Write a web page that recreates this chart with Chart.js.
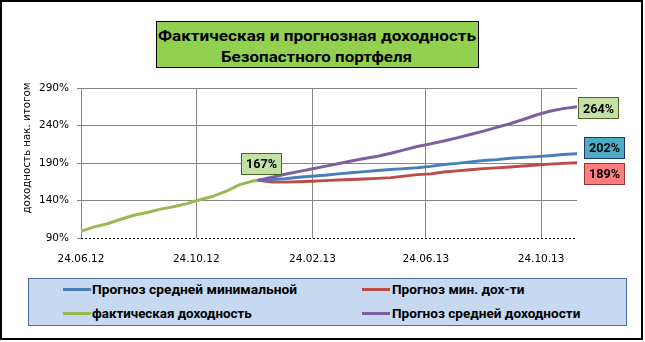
<!DOCTYPE html>
<html>
<head>
<meta charset="utf-8">
<script src="https://cdn.jsdelivr.net/npm/chart.js@4.4.0/dist/chart.umd.min.js"></script>
<style>
html,body{margin:0;padding:0;background:#fff;}
#wrap{position:relative;width:645px;height:342px;overflow:hidden;background:#fff;}
#c{position:absolute;left:0;top:0;}
#titleBox{position:absolute;left:156px;top:21px;width:323px;height:47px;box-sizing:border-box;background:#92d050;border:1px solid #000;}
#legendBox{position:absolute;left:28px;top:278px;width:599px;height:48px;box-sizing:border-box;background:#c6d9f1;border:1px solid #4a6fa0;}
.txt{position:absolute;white-space:nowrap;transform-origin:0 50%;color:#000;line-height:20px;height:20px;}
.swatch{position:absolute;height:3px;}
</style>
</head>
<body>
<div id="wrap">
<canvas id="c" width="645" height="342"></canvas>
<div id="titleBox"></div>
<div id="legendBox"></div>
</div>
<script>
// ---------------- data ----------------
const titleLines = ['Фактическая и прогнозная доходность', 'Безопастного портфеля'];
const yAxisTitle = 'доходность нак. итогом';

const actualDates = ['24.06.12','08.07.12','22.07.12','05.08.12','19.08.12','02.09.12','16.09.12','30.09.12','14.10.12','28.10.12','11.11.12','25.11.12','09.12.12','23.12.12','29.12.12'];
const actualValues = [99, 104.8, 109, 115, 120.4, 124, 128.5, 131.6, 135.8, 141, 145.7, 152.5, 161.2, 166, 167];

const forecastDates = ['29.12.12','12.01.13','26.01.13','09.02.13','23.02.13','09.03.13','23.03.13','06.04.13','20.04.13','04.05.13','18.05.13','01.06.13','15.06.13','29.06.13','13.07.13','27.07.13','10.08.13','24.08.13','07.09.13','21.09.13','05.10.13','19.10.13','02.11.13','16.11.13','01.12.13'];
const forecastAvgMin = [167,168,169,171,172.3,173.8,175.5,177,178.5,180,181.3,182.5,183.7,185.5,188,189.5,191.5,193.2,194.5,196.2,197.5,198.5,199.8,201.2,202.5];
const forecastMin = [167,164.8,164.5,165,165.7,166.5,167.3,168,168.7,169.5,170.5,172.5,174.5,175.5,178,179.5,181,182.5,183.5,184.6,186,187.3,188.5,189.5,190.5];
const forecastAvg = [167,171,175,178.5,182,185.5,189,192.7,196,199,203,207.5,211.9,215.5,219.4,223.5,228,232.5,237.5,242.4,248,254,259,262.5,265];

const seriesNames = ['Прогноз средней минимальной', 'Прогноз мин. дох-ти', 'фактическая доходность', 'Прогноз средней доходности'];
const endLabelTexts = ['202%', '189%', '167%', '264%'];

const xTickDates = ['24.06.12','24.10.12','24.02.13','24.06.13','24.10.13'];
const xRange = ['24.06.12','01.12.13'];
const yTicks = [90,140,190,240,290];

// ---------------- helpers ----------------
function day(s){ const p = s.split('.').map(Number); return Date.UTC(2000+p[2], p[1]-1, p[0]) / 864e5; }
function fmt(v){ const d = new Date(v*864e5); const pad = n => String(n).padStart(2,'0');
  return pad(d.getUTCDate()) + '.' + pad(d.getUTCMonth()+1) + '.' + pad(d.getUTCFullYear()%100); }
function pts(dates, vals){ return dates.map((d,i)=>({x: day(d), y: vals[i]})); }

const colors = ['#4a7ebb', '#be4b48', '#98b954', '#7d5fa0'];
// label box styles (per dataset index)
const labelStyles = [
  {dx:27, dy:-6.3, fill:'#4bacc6', stroke:'#1f3864'},
  {dx:27, dy:10.4, fill:'#ff7c80', stroke:'#953735'},
  {dx:2.5, dy:-16.8, fill:'#c3e0a5', stroke:'#4f6228'},
  {dx:20.5, dy:1, fill:'#c3e0a5', stroke:'#4f6228'}
];

const gridGray = '#868686';

const decor = {
  id: 'decor',
  beforeDatasetsDraw(chart){
    // dotted baseline at the bottom of the value axis
    const ctx = chart.ctx, a = chart.chartArea;
    const y = Math.round(chart.scales.y.getPixelForValue(yTicks[0])) + 0.5;
    ctx.save();
    ctx.strokeStyle = '#000';
    ctx.lineWidth = 1;
    ctx.setLineDash([2, 2]);
    ctx.beginPath();
    ctx.moveTo(a.left, y);
    ctx.lineTo(a.right, y);
    ctx.stroke();
    ctx.restore();
  },
  afterDatasetsDraw(chart){
    const ctx = chart.ctx;
    labelStyles.forEach((st, i) => {
      const meta = chart.getDatasetMeta(i);
      const pt = meta.data[meta.data.length-1];
      const cx = pt.x + st.dx, cy = pt.y + st.dy;
      const w = 40, h = 21;
      ctx.save();
      ctx.fillStyle = st.fill;
      ctx.strokeStyle = st.stroke;
      ctx.lineWidth = 1;
      ctx.fillRect(Math.round(cx-w/2)+0.5, Math.round(cy-h/2)+0.5, w, h);
      ctx.strokeRect(Math.round(cx-w/2)+0.5, Math.round(cy-h/2)+0.5, w, h);
      ctx.fillStyle = '#000';
      ctx.font = 'bold 13.5px Roboto';
      ctx.textAlign = 'center';
      ctx.textBaseline = 'middle';
      ctx.fillText(endLabelTexts[i], Math.round(cx)+0.5, Math.round(cy)+1.5, 31);
      ctx.restore();
    });
  },
  afterDraw(chart){
    const ctx = chart.ctx;
    ctx.save();
    ctx.translate(27, 148);
    ctx.rotate(-Math.PI/2);
    ctx.font = '10.5px "DejaVu Sans"';
    ctx.fillStyle = '#000';
    ctx.textAlign = 'center';
    ctx.textBaseline = 'middle';
    ctx.fillText(yAxisTitle, 0, 0, 131);
    ctx.restore();
    ctx.save();
    ctx.strokeStyle = '#000';
    ctx.lineWidth = 2;
    ctx.strokeRect(1, 1, 641, 338);
    ctx.restore();
  }
};

Chart.defaults.font.family = '"DejaVu Sans"';
Chart.defaults.font.size = 10.5;
Chart.defaults.color = '#000';

const datasets = [
  {label: seriesNames[0], data: pts(forecastDates, forecastAvgMin), borderColor: colors[0], order: 2},
  {label: seriesNames[1], data: pts(forecastDates, forecastMin), borderColor: colors[1], order: 3},
  {label: seriesNames[2], data: pts(actualDates, actualValues), borderColor: colors[2], order: 1},
  {label: seriesNames[3], data: pts(forecastDates, forecastAvg), borderColor: colors[3], order: 0}
].map(d => Object.assign(d, {borderWidth: 3, pointRadius: 0, pointHoverRadius: 0, tension: 0, fill: false,
  borderJoinStyle: 'round', borderCapStyle: 'round'}));

const chart = new Chart(document.getElementById('c'), {
  type: 'line',
  data: {datasets},
  options: {
    responsive: false,
    animation: false,
    devicePixelRatio: 1,
    layout: {padding: {left: 0, top: 88, right: 68, bottom: 74}},
    plugins: {legend: {display: false}, title: {display: false}, tooltip: {enabled: false}},
    scales: {
      x: {
        type: 'linear', min: day(xRange[0]), max: day(xRange[1]),
        afterBuildTicks: s => { s.ticks = xTickDates.map(t => ({value: day(t)})); },
        ticks: {callback: v => fmt(v), padding: 15, maxRotation: 0, autoSkip: false, color: '#000'},
        grid: {color: gridGray, lineWidth: 1, drawTicks: false},
        border: {display: false},
        afterFit: s => { s.height = 30; }
      },
      y: {
        min: 90, max: 290,
        afterBuildTicks: s => { s.ticks = yTicks.map(v => ({value: v})); },
        ticks: {callback: v => v + '%', padding: 8, color: '#000'},
        grid: {color: c => (c.tick && c.tick.value === yTicks[0]) ? 'rgba(0,0,0,0)' : gridGray, tickColor: gridGray, tickLength: 4, lineWidth: 1},
        border: {display: true, color: gridGray, width: 1},
        afterFit: s => { s.width = 81; }
      }
    }
  },
  plugins: [decor]
});

// ---------------- title & legend (HTML text) ----------------
const wrap = document.getElementById('wrap');
function placeText(text, font, x, cy, targetW, center){
  const el = document.createElement('div');
  el.className = 'txt';
  el.textContent = text;
  el.style.font = font;
  el.style.lineHeight = '20px';
  wrap.appendChild(el);
  const w = el.offsetWidth;
  const s = targetW / w;
  el.style.left = (center ? x - targetW/2 : x) + 'px';
  el.style.top = (cy - 10) + 'px';
  el.style.transform = 'scaleX(' + s + ')';
}
placeText(titleLines[0], 'bold 15px Roboto', 317, 35.5, 318, true);
placeText(titleLines[1], 'bold 15px Roboto', 316, 56.5, 191, true);

const legendLayout = {lineX: [63, 362], textX: [92, 392], rowY: [289, 313], widths: [205, 133, 160, 188]};
chart.data.datasets.forEach((ds, i) => {
  const col = i % 2, row = Math.floor(i / 2);
  const sw = document.createElement('div');
  sw.className = 'swatch';
  sw.style.left = legendLayout.lineX[col] + 'px';
  sw.style.width = '28px';
  sw.style.top = (legendLayout.rowY[row] - 1.5) + 'px';
  sw.style.background = ds.borderColor;
  wrap.appendChild(sw);
  placeText(ds.label, 'bold 13.5px Roboto', legendLayout.textX[col], legendLayout.rowY[row], legendLayout.widths[i], false);
});
</script>
</body>
</html>
